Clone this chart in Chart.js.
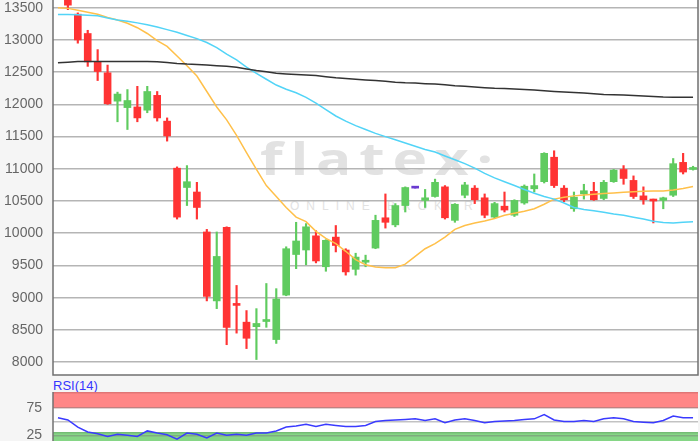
<!DOCTYPE html>
<html>
<head>
<meta charset="utf-8">
<script src="https://cdn.jsdelivr.net/npm/chart.js@4.4.1/dist/chart.umd.min.js"></script>
<style>
  html, body { margin: 0; padding: 0; overflow: hidden; background: #f5f5f5; }
  #wrap { position: relative; width: 700px; height: 441px; background: #f5f5f5; overflow: hidden; font-family: 'Liberation Sans', Arial, sans-serif; }
  #plotBg { position: absolute; left: 53px; top: 0; width: 645px; height: 375px; background: #fff; }
  .wm { position: absolute; color: #e2e2e2; white-space: nowrap; line-height: 1; }
  #wmLogo { left: 260px; top: 135px; font-family: 'Open Sans', sans-serif; font-weight: 700; font-size: 45px; letter-spacing: 6px; transform: scaleX(1.3); transform-origin: left top; }
  #wmSub { left: 290px; top: 200px; font-size: 12px; letter-spacing: 7px; }
  #mainBox { position: absolute; left: 0; top: 0; }
  #rsiBox { position: absolute; left: 0; top: 376px; }
  #rsiLabel { position: absolute; left: 53px; top: 379px; font-size: 13px; color: #3636ff; line-height: 1; }
</style>
</head>
<body>
<div id="wrap">
  <div id="plotBg"></div>
  <div class="wm" id="wmLogo">flatex·</div>
  <div class="wm" id="wmSub">ONLINE BROKER</div>
  <div id="mainBox"><canvas id="mainChart" width="700" height="377"></canvas></div>
  <div id="rsiLabel">RSI(14)</div>
  <div id="rsiBox"><canvas id="rsiChart" width="700" height="73"></canvas></div>
</div>
<script>
// daily candles (first one sits above the visible range)
const opens  = [13800, 13680, 13400, 13100, 12660, 12490, 12050, 11950, 11960, 11910,
                12140, 11740, 11010, 10710, 10640, 10020, 8950, 10090, 8900, 8620,
                8550, 8630, 8350, 9040, 9670, 9740, 9960, 9480, 9940, 9740,
                9440, 9550, 9770, 10240, 10130, 10430, 10700, 10510, 10570, 10720,
                10200, 10590, 10700, 10550, 10250, 10420, 10280, 10470, 10690, 10800,
                11180, 10700, 10380, 10610, 10650, 10540, 10800, 10990, 10820, 10580,
                10510, 10510, 10590, 11100, 10990];
const highs  = [13850, 13720, 13420, 13150, 12850, 12610, 12190, 12230, 12280, 12280,
                12200, 11790, 11030, 11050, 10790, 10060, 10020, 10100, 9190, 8800,
                8830, 9220, 9140, 9790, 10170, 10150, 10040, 9900, 10120, 9760,
                9690, 9660, 10280, 10610, 10460, 10720, 10700, 10680, 10840, 10740,
                10460, 10790, 10740, 10610, 10480, 10640, 10520, 10750, 10920, 11250,
                11280, 10740, 10640, 10760, 10790, 10820, 10990, 11050, 10890, 10720,
                10530, 10560, 11160, 11240, 11040];
const lows   = [13650, 13470, 12950, 12590, 12370, 12000, 11730, 11610, 11730, 11870,
                11740, 11430, 10220, 10430, 10220, 8950, 8830, 8270, 8450, 8210,
                8040, 8540, 8290, 9030, 9450, 9510, 9540, 9410, 9710, 9350,
                9350, 9480, 9760, 10080, 10100, 10330, 10700, 10400, 10560, 10220,
                10170, 10550, 10460, 10240, 10230, 10330, 10260, 10450, 10640, 10780,
                10710, 10490, 10340, 10530, 10510, 10520, 10790, 10760, 10540, 10450,
                10160, 10380, 10570, 10920, 10980];
const closes = [13700, 13540, 13000, 12660, 12510, 12010, 12160, 12060, 11790, 12200,
                11790, 11510, 10250, 10800, 10400, 9020, 9640, 8540, 8880, 8370,
                8600, 8660, 8980, 9760, 9880, 10100, 9570, 9890, 9810, 9400,
                9630, 9580, 10200, 10170, 10430, 10710, 10700, 10550, 10790, 10240,
                10450, 10750, 10520, 10280, 10460, 10360, 10510, 10730, 10740, 11240,
                10740, 10520, 10560, 10660, 10520, 10790, 10980, 10850, 10570, 10520,
                10500, 10550, 11080, 10950, 11010];

// moving averages
const maFast = [13500, 13490, 13460, 13430, 13400, 13350, 13310, 13260, 13190, 13100,
                12990, 12900, 12750, 12600, 12440, 12200, 11960, 11760, 11520, 11250,
                10990, 10740, 10570, 10400, 10250, 10180, 10030, 9920, 9840, 9720,
                9590, 9510, 9475, 9465, 9465, 9520, 9640, 9760, 9840, 9940,
                10060, 10120, 10160, 10190, 10230, 10280, 10310, 10340, 10380, 10450,
                10530, 10560, 10580, 10595, 10605, 10615, 10625, 10635, 10645, 10650,
                10655, 10655, 10670, 10695, 10725];
const maMid  = [13395, 13395, 13390, 13385, 13375, 13340, 13310, 13290, 13265, 13235,
                13200, 13160, 13120, 13070, 13020, 12960, 12880, 12780, 12690, 12580,
                12480, 12390, 12300, 12235, 12180, 12110, 12020, 11920, 11820, 11740,
                11670, 11610, 11550, 11500, 11450, 11400, 11350, 11300, 11260, 11200,
                11140, 11080, 11010, 10930, 10860, 10800, 10740, 10680, 10620, 10570,
                10530, 10470, 10400, 10370, 10350, 10325, 10300, 10280, 10250, 10220,
                10185, 10165, 10160, 10170, 10180];
const maSlow = [12645, 12655, 12665, 12665, 12665, 12665, 12665, 12665, 12665, 12665,
                12660, 12650, 12635, 12625, 12620, 12610, 12600, 12590, 12575, 12550,
                12525, 12505, 12485, 12472, 12462, 12455, 12447, 12430, 12412, 12400,
                12390, 12380, 12370, 12360, 12345, 12335, 12330, 12322, 12317, 12305,
                12290, 12280, 12270, 12260, 12250, 12245, 12238, 12232, 12222, 12210,
                12200, 12192, 12185, 12175, 12165, 12155, 12150, 12145, 12138, 12130,
                12122, 12115, 12112, 12112, 12112];

const rsiValues = [57, 53, 40, 31, 28, 23, 27, 25, 23, 33,
                   29, 26, 18, 29, 27, 20, 29, 25, 27, 25,
                   29, 29, 33, 40, 42, 45, 41, 45, 43, 41,
                   41, 43, 50, 52, 53, 54, 55, 52, 55, 48,
                   53, 55, 52, 48, 50, 51, 52, 54, 55, 63,
                   53, 50, 50, 52, 50, 55, 57, 55, 50, 49,
                   48, 52, 60, 57, 57];

const priceTicks = [8000, 8500, 9000, 9500, 10000, 10500, 11000, 11500, 12000, 12500, 13000, 13500];
const rsiTicks = [25, 50, 75];

const days = opens.map((o, i) => String(i + 1));

const UP = '#5fcb5f';
const DOWN = '#ff3333';
const FLAT = '#6a3bd0';

function candleColor(i) {
    if (closes[i] > opens[i]) return UP;
    if (closes[i] < opens[i]) return DOWN;
    return FLAT;
}
const candleColors = opens.map((o, i) => candleColor(i));

// keep the plot area flush with the canvas edges (no room reserved for edge labels)
function fixAxis(scale) {
    scale.width = 53;
    scale.paddingTop = 0;
    scale.paddingBottom = 0;
}

const frame = {
    id: 'frame',
    afterDraw(chart) {
        const a = chart.chartArea;
        const ctx = chart.ctx;
        ctx.save();
        ctx.strokeStyle = '#707070';
        ctx.lineWidth = 1.5;
        ctx.beginPath();
        ctx.moveTo(a.left, a.top);
        ctx.lineTo(a.left, a.bottom);
        ctx.lineTo(a.right, a.bottom);
        ctx.lineTo(a.right, a.top);
        ctx.stroke();
        ctx.restore();
    }
};

const axisFont = { family: "'Liberation Sans', Arial, sans-serif", size: 14 };

new Chart(document.getElementById('mainChart'), {
    type: 'bar',
    data: {
        labels: days,
        datasets: [
            {
                type: 'line', data: maSlow, borderColor: '#333333', borderWidth: 1.5,
                pointRadius: 0, order: 0
            },
            {
                type: 'line', data: maMid, borderColor: '#52d4f7', borderWidth: 1.5,
                pointRadius: 0, order: 0
            },
            {
                type: 'line', data: maFast, borderColor: '#ffc04a', borderWidth: 1.5,
                pointRadius: 0, order: 0
            },
            {
                data: opens.map((o, i) => [o, closes[i]]),
                backgroundColor: candleColors,
                barThickness: 7, minBarLength: 2, grouped: false, order: 1
            },
            {
                data: lows.map((l, i) => [l, highs[i]]),
                backgroundColor: candleColors,
                barThickness: 1.5, grouped: false, order: 2
            }
        ]
    },
    options: {
        responsive: false,
        animation: false,
        devicePixelRatio: 1,
        layout: { padding: { top: 0, right: 2, bottom: 2, left: 0 } },
        plugins: { legend: { display: false }, tooltip: { enabled: false } },
        scales: {
            x: { display: false },
            y: {
                min: 7800,
                max: 13620,
                afterBuildTicks: scale => { scale.ticks = priceTicks.map(v => ({ value: v })); },
                afterFit: fixAxis,
                border: { display: false },
                grid: { color: '#b5b5b5', lineWidth: 1.5, drawTicks: false },
                ticks: { color: '#666', font: axisFont, padding: 10, callback: v => String(v) }
            }
        }
    },
    plugins: [frame]
});

const rsiBands = {
    id: 'rsiBands',
    beforeDraw(chart) {
        const a = chart.chartArea;
        const y = chart.scales.y;
        const ctx = chart.ctx;
        ctx.save();
        ctx.fillStyle = '#ffffff';
        ctx.fillRect(a.left, a.top, a.right - a.left, a.bottom - a.top);
        const redBottom = y.getPixelForValue(74.5);
        ctx.fillStyle = '#ff8686';
        ctx.fillRect(a.left, a.top, a.right - a.left, redBottom - a.top);
        const greenTop = y.getPixelForValue(31);
        ctx.fillStyle = '#86d686';
        ctx.fillRect(a.left, greenTop, a.right - a.left, a.bottom - greenTop);
        ctx.strokeStyle = 'rgba(0,0,0,0.12)';
        ctx.lineWidth = 1.5;
        ctx.beginPath();
        ctx.moveTo(a.left, a.top + 0.75);
        ctx.lineTo(a.right, a.top + 0.75);
        ctx.moveTo(a.left, greenTop + 0.75);
        ctx.lineTo(a.right, greenTop + 0.75);
        ctx.stroke();
        ctx.strokeStyle = '#707070';
        ctx.beginPath();
        ctx.moveTo(a.left, a.top);
        ctx.lineTo(a.left, a.bottom);
        ctx.stroke();
        ctx.restore();
    }
};

new Chart(document.getElementById('rsiChart'), {
    type: 'line',
    data: {
        labels: days,
        datasets: [{
            data: rsiValues, borderColor: '#3a3aff', borderWidth: 1.5, pointRadius: 0
        }]
    },
    options: {
        responsive: false,
        animation: false,
        devicePixelRatio: 1,
        layout: { padding: { top: 16, right: 2, bottom: 0, left: 0 } },
        plugins: { legend: { display: false }, tooltip: { enabled: false } },
        scales: {
            x: { display: false, offset: true },
            y: {
                min: 0,
                max: 104,
                afterBuildTicks: scale => { scale.ticks = rsiTicks.map(v => ({ value: v })); },
                afterFit: fixAxis,
                border: { display: false },
                grid: { color: 'rgba(120,120,120,0.45)', lineWidth: 1.5, drawTicks: false },
                ticks: { color: '#666', font: axisFont, padding: 11, callback: v => v === 50 ? '' : String(v) }
            }
        }
    },
    plugins: [rsiBands]
});
</script>
</body>
</html>
